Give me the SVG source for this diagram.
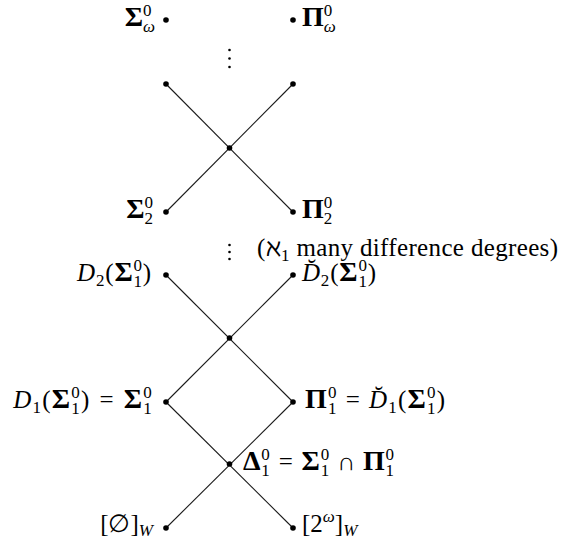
<svg xmlns="http://www.w3.org/2000/svg" width="562" height="541" viewBox="0 0 562 541" font-family="'Liberation Serif', 'Times New Roman', Tinos, 'DejaVu Serif', serif">
<style>
text { font-family: 'Liberation Serif', 'Times New Roman', Tinos, 'DejaVu Serif', serif; font-size: 25px; fill: #000; }
.e { text-anchor: end; }
.bg { font-weight: bold; font-size: 28px; }
.it { font-style: italic; }
.sc { font-size: 17px; }
.ls1 { letter-spacing: 1.2px; }
.ls2 { letter-spacing: 0.8px; }
.edge { stroke: #1a1a1a; stroke-width: 1.1; fill: none; }
.dot { fill: #000; }
.vd { fill: #000; }
</style>
<rect width="562" height="541" fill="#fff"/>
<g id="connectors">
<line class="edge" x1="166" y1="84" x2="293" y2="212"/>
<line class="edge" x1="293" y1="84" x2="166" y2="212"/>
<line class="edge" x1="166" y1="275" x2="293" y2="402"/>
<line class="edge" x1="293" y1="275" x2="166" y2="402"/>
<line class="edge" x1="166" y1="402" x2="293" y2="528"/>
<line class="edge" x1="293" y1="402" x2="166" y2="528"/>
</g>
<g id="vdots1"><circle class="vd" cx="229.5" cy="50" r="1.3"/><circle class="vd" cx="229.5" cy="58.5" r="1.3"/><circle class="vd" cx="229.5" cy="67" r="1.3"/></g>
<g id="vdots2"><circle class="vd" cx="229.5" cy="245" r="1.3"/><circle class="vd" cx="229.5" cy="252" r="1.3"/><circle class="vd" cx="229.5" cy="259" r="1.3"/></g>
<g id="n-sigma-omega"><circle class="dot" cx="166" cy="20" r="2.8"/><text class="e" x="155" y="26"><tspan class="bg">Σ</tspan><tspan class="sc" dy="-10">0</tspan><tspan class="sc it" dx="-8.5" dy="16">ω</tspan></text></g>
<g id="n-pi-omega"><circle class="dot" cx="293" cy="20" r="2.8"/><text x="302" y="26"><tspan class="bg">Π</tspan><tspan class="sc" dy="-10">0</tspan><tspan class="sc it" dx="-8.5" dy="16">ω</tspan></text></g>
<g id="n-a-left"><circle class="dot" cx="166" cy="84" r="2.8"/></g>
<g id="n-a-right"><circle class="dot" cx="293" cy="84" r="2.8"/></g>
<g id="n-a-center"><circle class="dot" cx="229.5" cy="148" r="2.8"/></g>
<g id="n-sigma2"><circle class="dot" cx="166" cy="212" r="2.8"/><text class="e" x="153" y="218"><tspan class="bg">Σ</tspan><tspan class="sc" dy="-10">0</tspan><tspan class="sc" dx="-8.5" dy="16">2</tspan></text></g>
<g id="n-pi2"><circle class="dot" cx="293" cy="212" r="2.8"/><text x="302" y="218"><tspan class="bg">Π</tspan><tspan class="sc" dy="-10">0</tspan><tspan class="sc" dx="-8.5" dy="16">2</tspan></text></g>
<g id="note"><text x="257" y="256" textLength="301" lengthAdjust="spacing">(ℵ<tspan class="sc" dy="5">1</tspan><tspan dy="-5"> many difference degrees)</tspan></text></g>
<g id="n-d2"><circle class="dot" cx="166" cy="275" r="2.8"/><text class="e ls2" x="152" y="281"><tspan class="it">D</tspan><tspan class="sc" dy="5">2</tspan><tspan dy="-5">(</tspan><tspan class="bg">Σ</tspan><tspan class="sc" dy="-10">0</tspan><tspan class="sc" dx="-9.3" dy="16">1</tspan><tspan dy="-6">)</tspan></text></g>
<g id="n-d2-dual"><circle class="dot" cx="293" cy="275" r="2.8"/><text class="ls2" x="302" y="281"><tspan class="it">D̆</tspan><tspan class="sc" dy="5">2</tspan><tspan dy="-5">(</tspan><tspan class="bg">Σ</tspan><tspan class="sc" dy="-10">0</tspan><tspan class="sc" dx="-9.3" dy="16">1</tspan><tspan dy="-6">)</tspan></text></g>
<g id="n-b-center"><circle class="dot" cx="229.5" cy="338" r="2.8"/></g>
<g id="n-d1"><circle class="dot" cx="166" cy="402" r="2.8"/><text class="e ls1" x="153" y="408"><tspan class="it">D</tspan><tspan class="sc" dy="5">1</tspan><tspan dy="-5">(</tspan><tspan class="bg">Σ</tspan><tspan class="sc" dy="-10">0</tspan><tspan class="sc" dx="-9.7" dy="16">1</tspan><tspan dy="-6">)</tspan><tspan dx="9">=</tspan><tspan class="bg" dx="9">Σ</tspan><tspan class="sc" dy="-10">0</tspan><tspan class="sc" dx="-9.7" dy="16">1</tspan></text></g>
<g id="n-pi1"><circle class="dot" cx="293" cy="402" r="2.8"/><text class="ls1" x="305" y="408"><tspan class="bg">Π</tspan><tspan class="sc" dy="-10">0</tspan><tspan class="sc" dx="-9.7" dy="16">1</tspan><tspan dx="8" dy="-6">=</tspan><tspan class="it" dx="8">D̆</tspan><tspan class="sc" dy="5">1</tspan><tspan dy="-5">(</tspan><tspan class="bg">Σ</tspan><tspan class="sc" dy="-10">0</tspan><tspan class="sc" dx="-9.7" dy="16">1</tspan><tspan dy="-6">)</tspan></text></g>
<g id="n-delta"><circle class="dot" cx="229.5" cy="464" r="2.8"/><text class="ls2" x="243" y="470"><tspan class="bg">Δ</tspan><tspan class="sc" dy="-10">0</tspan><tspan class="sc" dx="-9.3" dy="16">1</tspan><tspan dx="8" dy="-6">=</tspan><tspan class="bg" dx="8">Σ</tspan><tspan class="sc" dy="-10">0</tspan><tspan class="sc" dx="-9.3" dy="16">1</tspan><tspan dx="7" dy="-6">∩</tspan><tspan class="bg" dx="7">Π</tspan><tspan class="sc" dy="-10">0</tspan><tspan class="sc" dx="-9.3" dy="16">1</tspan></text></g>
<g id="n-empty"><circle class="dot" cx="166" cy="528" r="2.8"/><text class="e" x="153" y="532">[∅]<tspan class="sc it" dy="4">W</tspan></text></g>
<g id="n-full"><circle class="dot" cx="293" cy="528" r="2.8"/><text x="302" y="532">[2<tspan class="sc it" dy="-10">ω</tspan><tspan dy="10">]</tspan><tspan class="sc it" dy="4">W</tspan></text></g>
</svg>
